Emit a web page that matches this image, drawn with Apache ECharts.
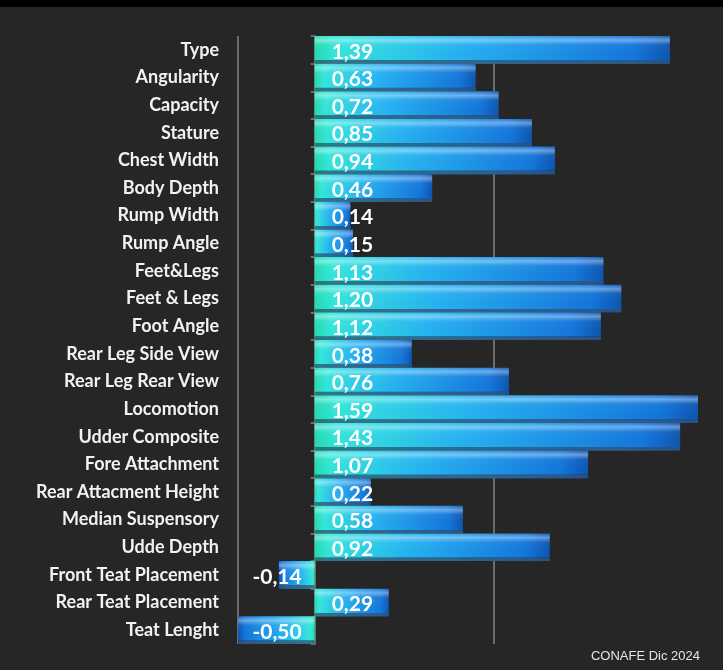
<!DOCTYPE html>
<html>
<head>
<meta charset="utf-8">
<script src="https://cdn.jsdelivr.net/npm/echarts@6/dist/echarts.min.js"></script>
<style>
html, body { margin: 0; padding: 0; background: #262626; }
#eChart { width: 723px; height: 670px; }
</style>
</head>
<body>
<div id="eChart"></div>
<script>
var categories = ['Type', 'Angularity', 'Capacity', 'Stature', 'Chest Width', 'Body Depth',
  'Rump Width', 'Rump Angle', 'Feet&Legs', 'Feet & Legs', 'Foot Angle', 'Rear Leg Side View',
  'Rear Leg Rear View', 'Locomotion', 'Udder Composite', 'Fore Attachment', 'Rear Attacment Height',
  'Median Suspensory', 'Udde Depth', 'Front Teat Placement', 'Rear Teat Placement', 'Teat Lenght'];
var values = [1.39, 0.63, 0.72, 0.85, 0.94, 0.46, 0.14, 0.15, 1.13, 1.20, 1.12, 0.38,
  0.76, 1.59, 1.43, 1.07, 0.22, 0.58, 0.92, -0.14, 0.29, -0.50];
var axisMin = -0.3;
var axisMax = 1.5;
var axisStep = 1;

function barColor(v) {
  var stops = [
    {offset: 0, color: '#22dcae'},
    {offset: 0.06, color: '#34e6dc'},
    {offset: 0.4, color: '#26b2f2'},
    {offset: 0.9, color: '#1476dc'},
    {offset: 1, color: '#0c56b2'}
  ];
  return v >= 0
    ? new echarts.graphic.LinearGradient(0, 0, 1, 0, stops)
    : new echarts.graphic.LinearGradient(1, 0, 0, 0, stops);
}

var mainData = values.map(function (v) {
  return {value: v, itemStyle: {color: barColor(v)}};
});
var overlayData = values.map(function (v) {
  return {
    value: v,
    label: {
      position: v >= 0 ? 'insideLeft' : 'insideRight',
      distance: v >= 0 ? 17 : 13
    }
  };
});

var myChart = echarts.init(document.getElementById('eChart'));
var option = {
  backgroundColor: '#262626',
  animation: false,
  graphic: [
    {type: 'rect', left: 0, top: 0, shape: {width: 723, height: 7}, style: {fill: '#000'}},
    {
      type: 'text', right: 23, bottom: 7,
      style: {text: 'CONAFE Dic 2024', fill: '#e6e6e6', font: '13px "Liberation Sans"'}
    }
  ],
  grid: {left: 238, right: 25, top: 36, bottom: 26, outerBoundsMode: 'none'},
  xAxis: {
    type: 'value',
    min: axisMin,
    max: axisMax,
    interval: axisStep,
    axisLabel: {show: false},
    axisLine: {show: false},
    axisTick: {show: false},
    splitLine: {show: true, showMaxLine: false, lineStyle: {color: '#858585', width: 1.5}}
  },
  yAxis: {
    type: 'category',
    inverse: true,
    data: categories,
    axisLine: {onZero: true, lineStyle: {color: '#858585', width: 1.5}},
    axisTick: {show: true, length: 4, lineStyle: {color: '#858585', width: 1.5}},
    axisLabel: {
      margin: 19,
      color: '#f2f2f2',
      fontFamily: 'Lato',
      fontWeight: 'bold',
      fontSize: 18,
      padding: [2, 0, 0, 0]
    }
  },
  series: [
    {
      type: 'bar',
      data: mainData,
      barCategoryGap: '0%',
      barGap: '-100%',
      silent: true
    },
    {
      type: 'bar',
      data: overlayData,
      barGap: '-100%',
      barCategoryGap: '0%',
      silent: true,
      itemStyle: {
        color: new echarts.graphic.LinearGradient(0, 0, 0, 1, [
          {offset: 0, color: 'rgba(255,255,255,0.05)'},
          {offset: 0.15, color: 'rgba(255,255,255,0.38)'},
          {offset: 0.32, color: 'rgba(255,255,255,0.04)'},
          {offset: 0.86, color: 'rgba(0,0,0,0)'},
          {offset: 0.88, color: 'rgba(50,80,110,0.75)'},
          {offset: 1, color: 'rgba(50,80,110,0.75)'}
        ])
      },
      label: {
        show: true,
        color: '#ffffff',
        fontFamily: 'Lato',
        fontWeight: 'bold',
        fontSize: 21,
        offset: [0, 2],
        formatter: function (p) {
          return p.value.toFixed(2).replace('.', ',');
        }
      }
    }
  ]
};
myChart.setOption(option);
</script>
</body>
</html>
